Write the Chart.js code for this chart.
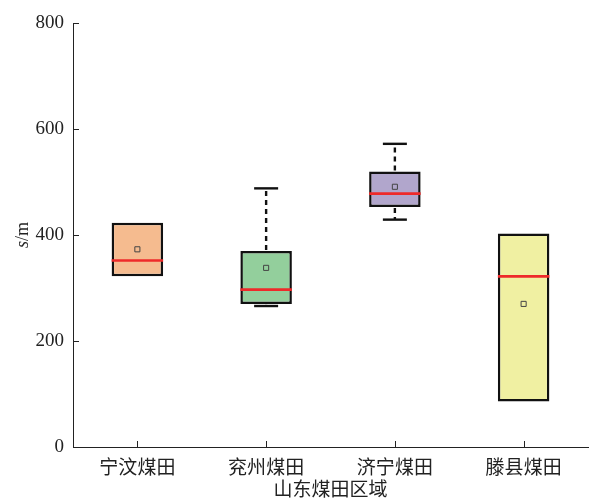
<!DOCTYPE html>
<html>
<head>
<meta charset="utf-8">
<script src="https://cdn.jsdelivr.net/npm/chart.js@4/dist/chart.umd.min.js"></script>
<style>
  html, body { margin: 0; padding: 0; background: #fff; }
  #wrap { width: 598px; height: 500px; }
</style>
</head>
<body>
<div id="wrap"><canvas id="boxChart"></canvas></div>
<script>
// data
const categories = ['宁汶煤田', '兖州煤田', '济宁煤田', '滕县煤田'];
const q1 = [322, 270, 453, 86];
const q3 = [423, 370, 520, 403];
const medians = [352, 297, 478, 322];
const means = [373, 338, 491, 270];
const whiskerMin = [322, 266, 429, 86];
const whiskerMax = [423, 488, 572, 403];
const yTicks = [0, 200, 400, 600, 800];

const boxColors = ['#f5bb8f', '#93cf9c', '#b1a6cc', '#f0f0a2'];

const serif = '"Liberation Serif", "DejaVu Serif", serif';
const cjk = '"Noto Sans CJK SC", sans-serif';

// whiskers, medians, inward ticks, y title
const boxExtras = {
    id: 'boxExtras',
    afterDatasetsDraw(chart) {
        const ctx = chart.ctx;
        const y = chart.scales.y;
        const x = chart.scales.x;
        const bars = chart.getDatasetMeta(0).data;

        ctx.save();
        bars.forEach((bar, i) => {
            const cx = bar.x;
            const half = bar.width / 2;
            const cap = 12;

            ctx.strokeStyle = '#111';
            ctx.lineWidth = 2.4;

            // upper whisker
            if (whiskerMax[i] > q3[i]) {
                ctx.setLineDash([5, 4]);
                ctx.beginPath();
                ctx.moveTo(cx, y.getPixelForValue(q3[i]) - 1);
                ctx.lineTo(cx, y.getPixelForValue(whiskerMax[i]));
                ctx.stroke();
                ctx.setLineDash([]);
                ctx.beginPath();
                ctx.moveTo(cx - cap, y.getPixelForValue(whiskerMax[i]));
                ctx.lineTo(cx + cap, y.getPixelForValue(whiskerMax[i]));
                ctx.stroke();
            }
            // lower whisker
            if (whiskerMin[i] < q1[i]) {
                ctx.setLineDash([5, 4]);
                ctx.beginPath();
                ctx.moveTo(cx, y.getPixelForValue(q1[i]) + 1);
                ctx.lineTo(cx, y.getPixelForValue(whiskerMin[i]));
                ctx.stroke();
                ctx.setLineDash([]);
                ctx.beginPath();
                ctx.moveTo(cx - cap, y.getPixelForValue(whiskerMin[i]));
                ctx.lineTo(cx + cap, y.getPixelForValue(whiskerMin[i]));
                ctx.stroke();
            }

            // median
            ctx.strokeStyle = '#ee2a2a';
            ctx.lineWidth = 2.6;
            ctx.beginPath();
            ctx.moveTo(cx - half, y.getPixelForValue(medians[i]));
            ctx.lineTo(cx + half, y.getPixelForValue(medians[i]));
            ctx.stroke();
        });

        // inward tick marks
        ctx.strokeStyle = '#222';
        ctx.lineWidth = 1;
        const area = chart.chartArea;
        y.ticks.forEach((t, i) => {
            const py = Math.round(y.getPixelForTick(i)) + 0.5;
            ctx.beginPath();
            ctx.moveTo(area.left, py);
            ctx.lineTo(area.left + 6, py);
            ctx.stroke();
        });
        x.ticks.forEach((t, i) => {
            const px = Math.round(x.getPixelForValue(i)) + 0.5;
            ctx.beginPath();
            ctx.moveTo(px, area.bottom);
            ctx.lineTo(px, area.bottom - 6);
            ctx.stroke();
        });

        // y title: italic s, upright /m
        ctx.translate(23, (area.top + area.bottom) / 2);
        ctx.rotate(-Math.PI / 2);
        ctx.fillStyle = '#222';
        ctx.textBaseline = 'middle';
        ctx.font = 'italic 18px ' + serif;
        const sW = ctx.measureText('s').width;
        ctx.font = '18px ' + serif;
        const mW = ctx.measureText('/m').width;
        const start = -(sW + mW) / 2;
        ctx.font = 'italic 18px ' + serif;
        ctx.textAlign = 'left';
        ctx.fillText('s', start, 0);
        ctx.font = '18px ' + serif;
        ctx.fillText('/m', start + sW, 0);
        ctx.restore();
    }
};

new Chart(document.getElementById('boxChart'), {
    data: {
        labels: categories,
        datasets: [
            {
                type: 'bar',
                data: q1.map((v, i) => [v, q3[i]]),
                backgroundColor: boxColors,
                borderColor: '#111',
                borderWidth: 2.5,
                borderSkipped: false,
                barPercentage: 0.40,
                categoryPercentage: 1,
                order: 2
            },
            {
                type: 'line',
                data: means,
                showLine: false,
                pointStyle: 'rect',
                pointRadius: 3.6,
                pointBorderWidth: 1,
                pointBorderColor: '#444',
                pointBackgroundColor: 'rgba(0,0,0,0)',
                order: 1
            }
        ]
    },
    options: {
        responsive: true,
        maintainAspectRatio: false,
        animation: false,
        layout: { padding: { top: 23, right: 10, left: 0, bottom: 0 } },
        plugins: {
            legend: { display: false },
            tooltip: { enabled: false }
        },
        scales: {
            x: {
                grid: { display: false },
                border: { display: true, color: '#222', width: 1 },
                ticks: {
                    color: '#222',
                    font: { family: cjk, size: 19 },
                    padding: 0
                },
                title: {
                    display: true,
                    text: '山东煤田区域',
                    color: '#222',
                    font: { family: cjk, size: 19 },
                    padding: { top: 0, bottom: 0 }
                },
                afterFit(scale) { scale.height = 53; }
            },
            y: {
                min: 0,
                max: 800,
                afterBuildTicks(scale) {
                    scale.ticks = yTicks.map(v => ({ value: v }));
                },
                grid: { display: false },
                border: { display: true, color: '#222', width: 1 },
                ticks: {
                    color: '#222',
                    font: { family: serif, size: 19 },
                    padding: 1
                },
                afterFit(scale) { scale.width = 73; }
            }
        }
    },
    plugins: [boxExtras]
});
</script>
</body>
</html>
